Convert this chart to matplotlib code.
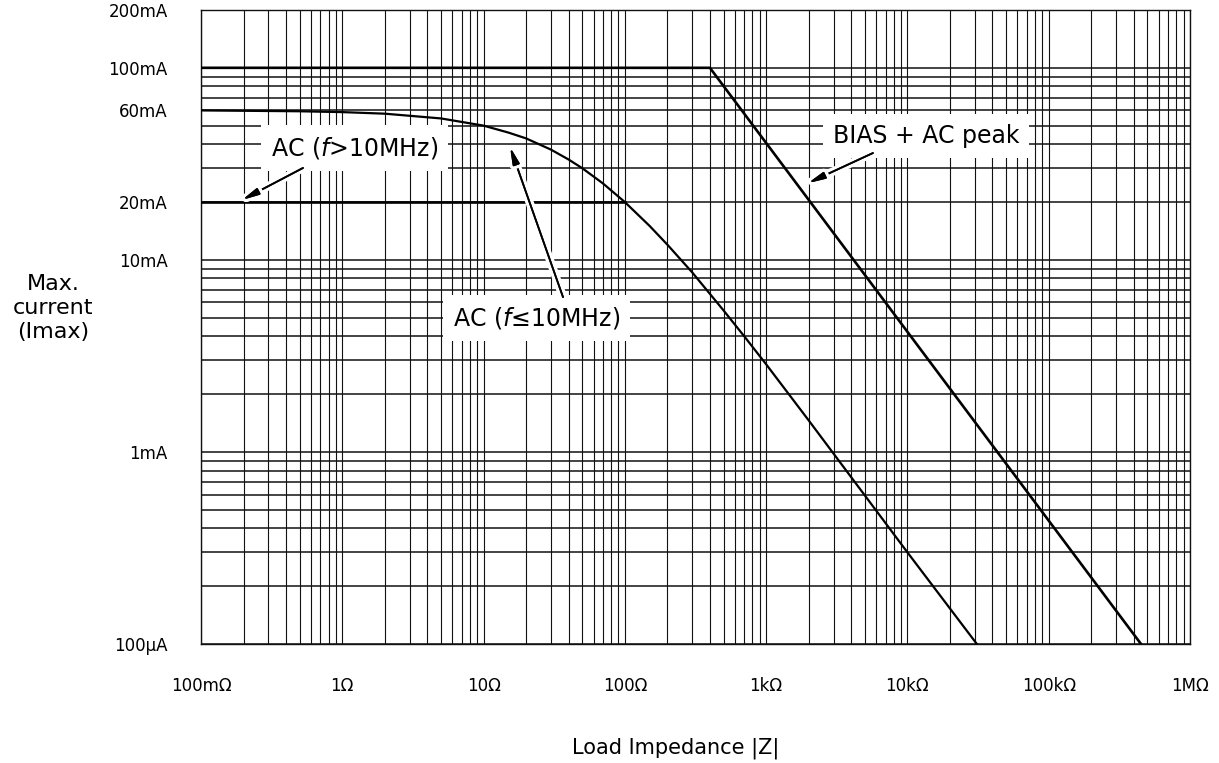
import matplotlib
matplotlib.use('Agg')
import matplotlib.pyplot as plt
import matplotlib.patheffects as pe
from matplotlib.ticker import FixedLocator, LogLocator, NullFormatter
import numpy as np

# load impedance (ohm) vs max. current (A)
bias_z = [0.1, 400, 450e3]
bias_i = [100e-3, 100e-3, 0.1e-3]

ac_low_z = [0.1, 0.5, 1, 2, 5, 10, 15, 20, 30, 40, 50, 70, 100, 150, 200, 300,
            500, 700, 1e3, 2e3, 3e3, 10e3, 31e3]
ac_low_i = [60e-3, 59.4e-3, 58.8e-3, 57.7e-3, 54.5e-3, 50e-3, 46e-3, 42.9e-3,
            37.5e-3, 33.3e-3, 30e-3, 25e-3, 20e-3, 15e-3, 12e-3, 8.6e-3,
            5.45e-3, 4.0e-3, 2.86e-3, 1.46e-3, 0.98e-3, 0.3e-3, 0.1e-3]

ac_high_z = [0.1, 100]
ac_high_i = [20e-3, 20e-3]

x_ticks = [0.1, 1, 10, 100, 1e3, 1e4, 1e5, 1e6]
x_labels = ['100mΩ', '1Ω', '10Ω', '100Ω', '1kΩ', '10kΩ', '100kΩ', '1MΩ']
y_ticks = [200e-3, 100e-3, 60e-3, 20e-3, 10e-3, 1e-3, 100e-6]
y_labels = ['200mA', '100mA', '60mA', '20mA', '10mA', '1mA', '100µA']

plt.rcParams['font.family'] = ['DejaVu Sans']

W, H = 1219, 763
fig = plt.figure(figsize=(W / 100, H / 100), dpi=100)
ax = fig.add_axes([201 / W, 1 - 644 / H, 989 / W, 634 / H])
ax.set_xscale('log')
ax.set_yscale('log')
ax.set_xlim(0.1, 1e6)
ax.set_ylim(1e-4, 0.2)

ax.xaxis.set_major_locator(FixedLocator(x_ticks))
ax.set_xticklabels(x_labels)
ax.yaxis.set_major_locator(FixedLocator(y_ticks))
ax.set_yticklabels(y_labels)
for axis in (ax.xaxis, ax.yaxis):
    axis.set_minor_locator(LogLocator(base=10, subs=np.arange(2, 10), numticks=30))
    axis.set_minor_formatter(NullFormatter())

ax.set_axisbelow(True)
ax.grid(which='both', axis='x', color='#111111', lw=0.8)
ax.grid(which='both', axis='y', color='#111111', lw=1.1)
ax.tick_params(which='both', length=0)
ax.tick_params(axis='y', pad=24, labelsize=12)
ax.tick_params(axis='x', pad=24, labelsize=12)
for s in ax.spines.values():
    s.set_linewidth(1.0)
    s.set_color('#111111')

# curves
ax.plot(bias_z, bias_i, color='black', lw=1.9, zorder=3)
ax.plot(ac_low_z, ac_low_i, color='black', lw=1.6, zorder=3)
ax.plot(ac_high_z, ac_high_i, color='black', lw=1.9, zorder=3)

# labels with white boxes
box = dict(fc='white', ec='none', pad=7)
ax.text(1.22, 0.0382, 'AC ($f$>10MHz)', ha='center', va='center',
        fontsize=17, bbox=box, zorder=2.6)
ax.text(23.7, 0.00498, 'AC ($f$≤10MHz)', ha='center', va='center',
        fontsize=17, bbox=box, zorder=2.6)
ax.text(13520, 0.0442, 'BIAS + AC peak', ha='center', va='center',
        fontsize=17, bbox=box, zorder=2.6)

# arrows with white halo
halo = [pe.withStroke(linewidth=6, foreground='white'), pe.Normal()]
arrow = dict(arrowstyle='-|>,head_length=1.0,head_width=0.2', color='black',
             lw=1.3, shrinkA=0, shrinkB=0, path_effects=halo)
ax.annotate('', xy=(0.195, 0.0205), xytext=(0.527, 0.0301), arrowprops=arrow, zorder=3.5)
ax.annotate('', xy=(15.4, 0.0387), xytext=(36.5, 0.0064), arrowprops=arrow, zorder=3.5)
ax.annotate('', xy=(1977, 0.0251), xytext=(5700, 0.036), arrowprops=arrow, zorder=3.5)

# axis titles
fig.text(676 / W, 1 - 748 / H, 'Load Impedance |Z|', ha='center', va='center', fontsize=15)
fig.text(53 / W, 1 - 308 / H, 'Max.\ncurrent\n(Imax)', ha='center', va='center',
         fontsize=16, linespacing=1.25)

fig.savefig('out.png', dpi=100)
